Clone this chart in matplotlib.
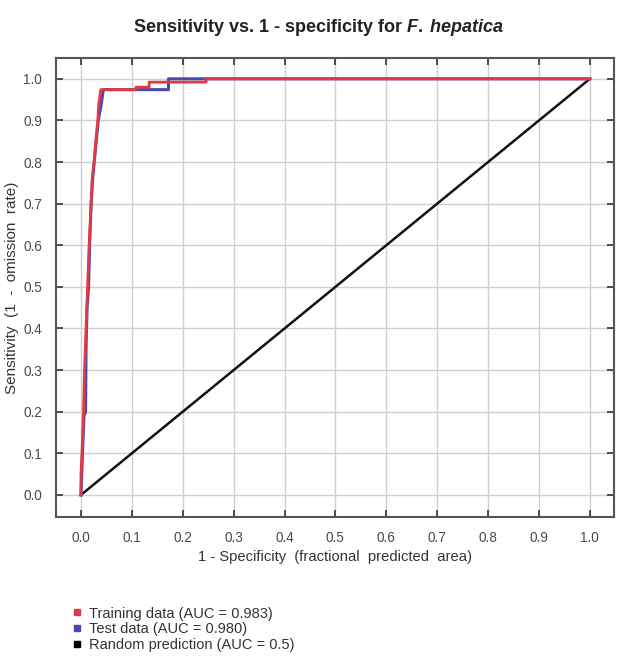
import matplotlib
matplotlib.use("Agg")
import matplotlib.pyplot as plt
from matplotlib.lines import Line2D

plt.rcParams['font.family'] = ['Liberation Sans', 'DejaVu Sans']
plt.rcParams['mathtext.fontset'] = 'custom'
plt.rcParams['mathtext.it'] = 'Liberation Sans:italic:bold'
plt.rcParams['mathtext.rm'] = 'Liberation Sans:bold'

# ROC curve points
train_fpr = [0.0, 0.0, 0.002, 0.005, 0.007, 0.010, 0.013, 0.016, 0.020, 0.022,
             0.026, 0.029, 0.033, 0.035, 0.039, 0.108, 0.108, 0.134, 0.134,
             0.246, 0.246, 1.0]
train_tpr = [0.0, 0.05, 0.10, 0.20, 0.30, 0.40, 0.50, 0.60, 0.70, 0.76,
             0.80, 0.85, 0.90, 0.94, 0.974, 0.974, 0.980, 0.980, 0.992,
             0.992, 1.0, 1.0]

test_fpr = [0.0, 0.003, 0.006, 0.009, 0.010, 0.012, 0.015, 0.017, 0.020, 0.023,
            0.026, 0.030, 0.034, 0.040, 0.044, 0.172, 0.172, 1.0]
test_tpr = [0.0, 0.10, 0.19, 0.20, 0.35, 0.45, 0.50, 0.60, 0.70, 0.76,
            0.80, 0.85, 0.90, 0.94, 0.974, 0.974, 1.0, 1.0]

random_x = [0.0, 1.0]
random_y = [0.0, 1.0]

ticks = [0.0, 0.1, 0.2, 0.3, 0.4, 0.5, 0.6, 0.7, 0.8, 0.9, 1.0]
legend_labels = ["Training data (AUC = 0.983)", "Test data (AUC = 0.980)",
                 "Random prediction (AUC = 0.5)"]

red = "#e03a45"
blue = "#4848b0"

fig = plt.figure(figsize=(6.17, 6.6), dpi=100)
ax = fig.add_axes([0.0908, 0.2167, 0.904, 0.6954])

ax.plot(random_x, random_y, color="#111111", lw=1.8, zorder=3)
ax.plot(test_fpr, test_tpr, color=blue, lw=2.2, zorder=4)
ax.plot(train_fpr, train_tpr, color=red, lw=2.0, zorder=5)

ax.set_xlim(-0.049, 1.047)
ax.set_ylim(-0.053, 1.05)
ax.set_xticks(ticks)
ax.set_yticks(ticks)
ax.set_xticklabels([f"{t:.1f}" for t in ticks])
ax.set_yticklabels([f"{t:.1f}" for t in ticks])
ax.grid(True, color="#cfcfcf", lw=1.0)
ax.set_axisbelow(True)
ax.tick_params(direction="in", length=5, width=1.2, color="#333333",
               top=True, right=True, labelsize=9.8, labelcolor="#4a4a4a", pad=10)
for s in ax.spines.values():
    s.set_color("#555555")
    s.set_linewidth(1.5)

ax.set_xlabel("1 - Specificity  (fractional  predicted  area)", fontsize=10.6,
              color="#333333", labelpad=4)
ax.set_ylabel("Sensitivity  (1  -  omission  rate)", fontsize=11,
              color="#333333", labelpad=3)

fig.text(0.517, 0.958, r"Sensitivity vs. 1 - specificity for $\it{F.\;hepatica}$",
         ha="center", va="center", fontsize=13, fontweight="bold", color="#222222")

handles = [Line2D([], [], ls="", marker="s", ms=4.5, color=c)
           for c in [red, blue, "black"]]
fig.legend(handles, legend_labels, loc="upper left", bbox_to_anchor=(0.117, 0.081),
           frameon=False, fontsize=10.5, handlelength=0.6, handletextpad=0.55,
           labelspacing=0.12, borderaxespad=0, borderpad=0, labelcolor="#333333")

fig.savefig("out.png", dpi=100)
